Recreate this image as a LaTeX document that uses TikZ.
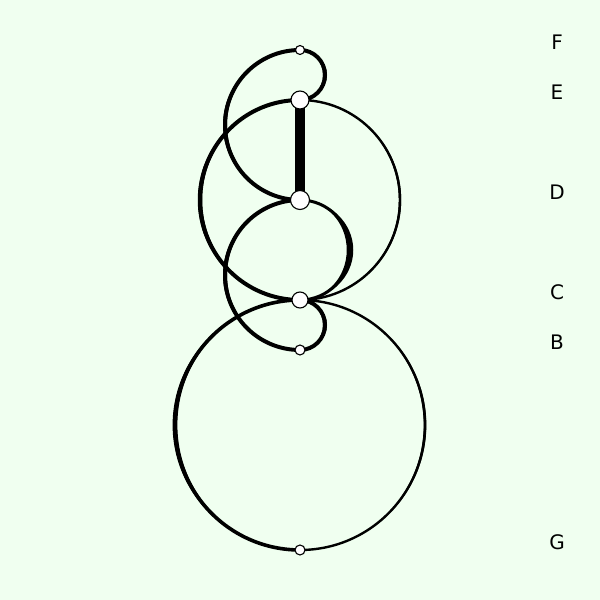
\documentclass[tikz,border=0pt]{standalone}
\usepackage{fontspec}
\setmainfont{DejaVu Sans}
\usetikzlibrary{backgrounds}
\definecolor{bgc}{HTML}{F0FFF0}
\newcommand\arcRight[4]{% top node, radius, stroke, extra
  \pgfmathsetmacro\ro{#2+(#3+#4)/2}\pgfmathsetmacro\ri{#2-(#3+#4)/2}%
  \fill (#1.center) arc[start angle=90,end angle=-90,x radius=\ro pt,y radius=#2pt]
        arc[start angle=-90,end angle=90,x radius=\ri pt,y radius=#2pt] -- cycle;
  \draw[line width=#3pt] (#1.center) arc[start angle=90,end angle=-90,radius=#2pt];}
\newcommand\arcLeft[4]{% top node, radius, stroke, extra
  \pgfmathsetmacro\ro{#2+(#3+#4)/2}\pgfmathsetmacro\ri{#2-(#3+#4)/2}%
  \fill (#1.center) arc[start angle=90,end angle=270,x radius=\ro pt,y radius=#2pt]
        arc[start angle=270,end angle=90,x radius=\ri pt,y radius=#2pt] -- cycle;
  \draw[line width=#3pt] (#1.center) arc[start angle=90,end angle=270,radius=#2pt];}
\begin{document}
\begin{tikzpicture}[x=1pt,y=1pt,
  vtx/.style={circle,draw=black,fill=white,line width=1.1pt,inner sep=0pt,minimum size=#1},
  lbl/.style={font=\fontsize{20}{20}\selectfont,text=black,inner sep=0pt}]
\useasboundingbox (0,0) rectangle (600,600);
\begin{scope}[on background layer]
\fill[bgc] (0,0) rectangle (600,600);
\end{scope}
% nodes
\node[vtx=9pt]  (F) at (300,550) {};
\node[vtx=18pt] (E) at (300,500) {};
\node[vtx=19pt] (D) at (300,400) {};
\node[vtx=16pt] (C) at (300,300) {};
\node[vtx=10pt] (B) at (300,250) {};
\node[vtx=10pt] (G) at (300,50) {};
% labels
\node[lbl] (lF) at (557,558) {F};
\node[lbl] (lE) at (557,508) {E};
\node[lbl] (lD) at (557,408) {D};
\node[lbl] (lC) at (557,308) {C};
\node[lbl] (lB) at (557,258) {B};
\node[lbl] (lG) at (557,58) {G};
% edges
\begin{scope}[on background layer,black]
\arcRight{F}{25}{4}{0}
\arcLeft{F}{75}{4}{0}
\draw[line width=9.5pt] (E.center) -- (D.center);
\arcLeft{E}{100}{4}{0.5}
\arcRight{E}{100}{2.4}{0}
\arcRight{D}{50}{3}{3.5}
\arcLeft{D}{75}{4}{0}
\arcRight{C}{25}{4}{0}
\arcLeft{C}{125}{3.6}{1.2}
\arcRight{C}{125}{2.4}{0.3}
\end{scope}
\end{tikzpicture}
\end{document}
